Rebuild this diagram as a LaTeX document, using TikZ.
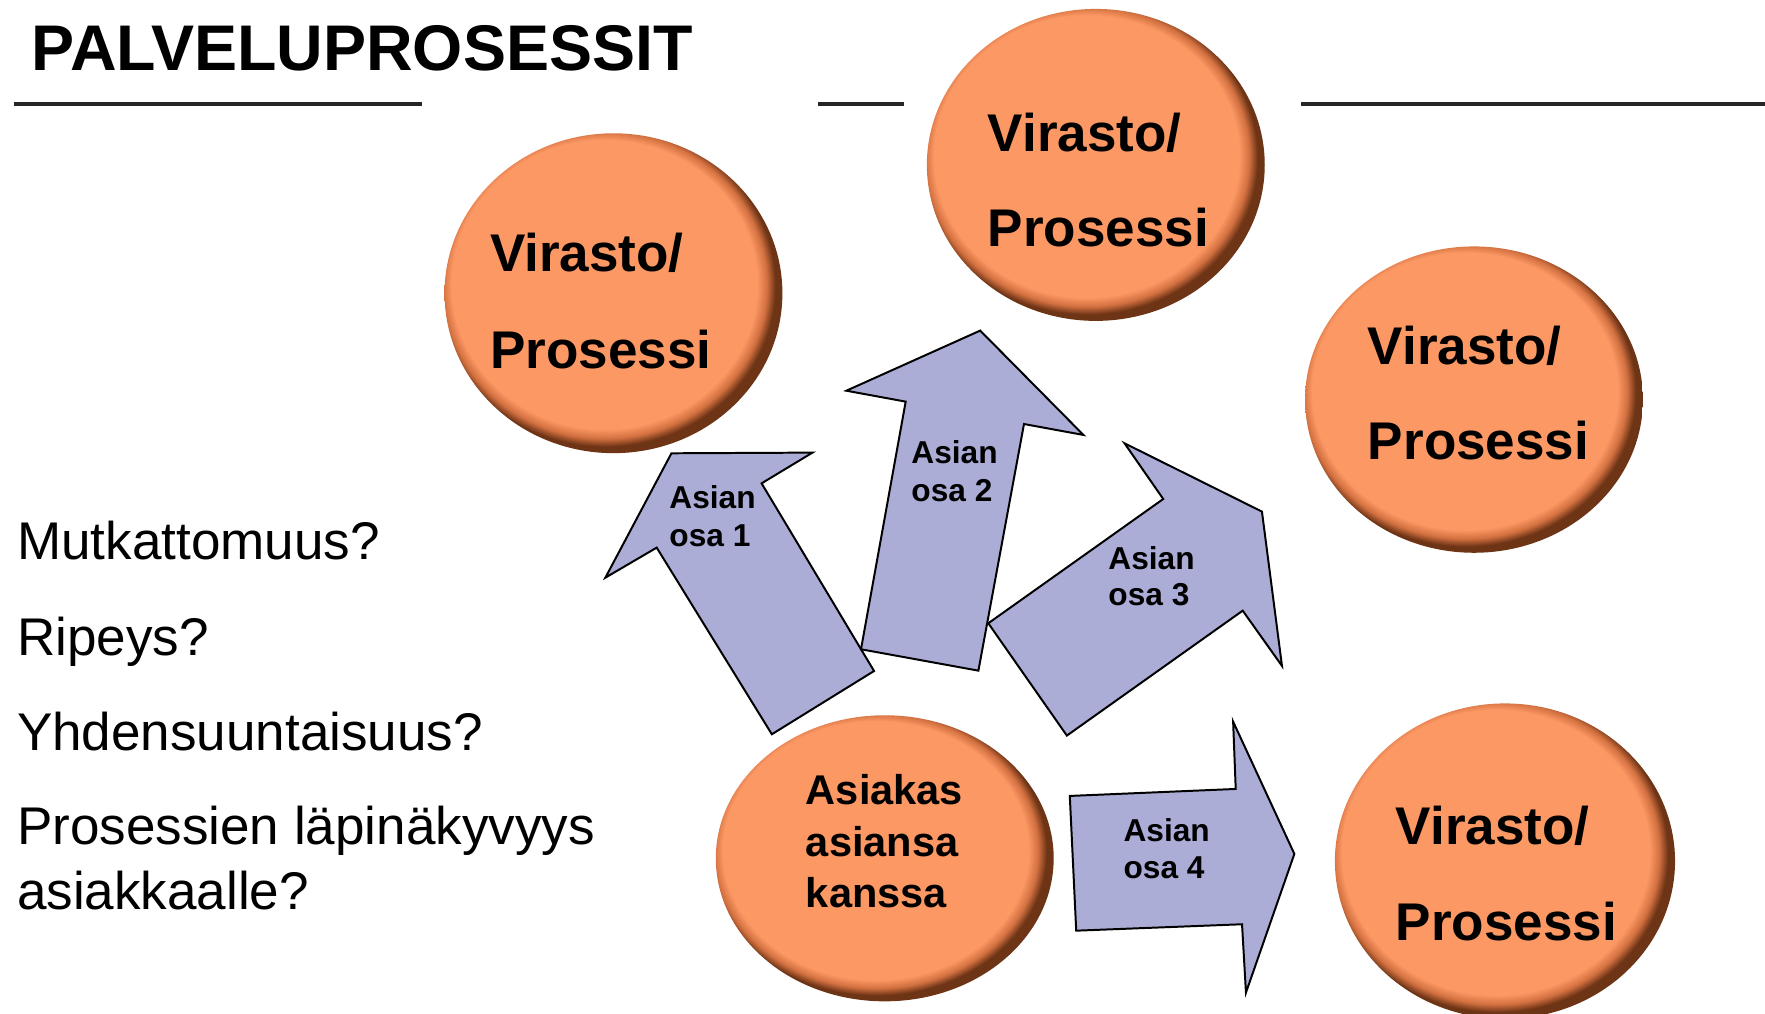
\documentclass[tikz,border=0pt]{standalone}
\usepackage{fontspec}
\setmainfont{Liberation Sans}
\usetikzlibrary{calc,shapes.geometric}
\definecolor{orbfill}{RGB}{252,152,100}
\definecolor{orbrim}{RGB}{210,112,64}
\definecolor{orbdeep}{RGB}{110,52,22}
\definecolor{partfill}{RGB}{171,173,214}
\pgfdeclareradialshading{orbshade}{\pgfpoint{-2.5bp}{2.5bp}}{color(0bp)=(orbfill); color(22.6bp)=(orbfill); color(24bp)=(orbrim); color(25.2bp)=(orbdeep); color(50bp)=(orbdeep)}

\begin{document}
\begin{tikzpicture}[x=0.01cm,y=-0.01cm,
    orb/.style={ellipse, minimum width=3cm, inner sep=0pt, shade, shading=orbshade},
    orbtext/.style={anchor=base west, inner sep=0pt, font=\bfseries\fontsize{13.4}{16}\selectfont},
    clienttext/.style={anchor=base west, inner sep=0pt, font=\bfseries\fontsize{10.5}{13}\selectfont},
    parttext/.style={anchor=base west, inner sep=0pt, font=\bfseries\fontsize{8}{10}\selectfont},
    question/.style={anchor=base west, inner sep=0pt, font=\fontsize{13.4}{16}\selectfont},
    part/.style={fill=partfill, draw=black, line width=0.5pt, line join=miter},
    rule/.style={line width=0.9pt, black!85}]
    \fill[white] (0,0) rectangle (1568,900);
    \useasboundingbox (0,0) rectangle (1568,900);

    \node[anchor=base west, inner sep=0pt, font=\bfseries\fontsize{16.3}{19}\selectfont] (title) at (27.5,62.8) {PALVELUPROSESSIT};
    \draw[rule] (12,92.4) -- (374.6,92.4);
    \draw[rule] (727,92.4) -- (803,92.4);
    \draw[rule] (1156,92.4) -- (1568,92.4);

    \node[question] (q1) at (14.5,496.9) {Mutkattomuus?};
    \node[question] (q2) at (14.5,581.9) {Ripeys?};
    \node[question] (q3) at (14.5,666.3) {Yhdensuuntaisuus?};
    \node[question] (q4) at (14.5,750.6) {Prosessien läpinäkyvyys};
    \node[question] (q5) at ($(q4.base west)+(0,57.8)$) {asiakkaalle?};

    \node[orb, minimum height=2.84cm] (vp1) at (545,260.5) {};
    \node[orb, minimum height=2.77cm] (vp2) at (973.5,146.5) {};
    \node[orb, minimum height=2.72cm] (vp3) at (1309.5,355) {};
    \node[orb, minimum width=3.02cm, minimum height=2.8cm] (vp4) at (1337,765) {};
    \node[orb, minimum height=2.54cm] (client) at (786,762.5) {};

    \node[orbtext] (vp1a) at (434.7,241.3) {Virasto/};
    \node[orbtext] (vp1b) at ($(vp1a.base west)+(0,86)$) {Prosessi};
    \node[orbtext] (vp2a) at (877,135) {Virasto/};
    \node[orbtext] (vp2b) at ($(vp2a.base west)+(0,84)$) {Prosessi};
    \node[orbtext] (vp3a) at (1214.6,323.4) {Virasto/};
    \node[orbtext] (vp3b) at ($(vp3a.base west)+(0,84.6)$) {Prosessi};
    \node[orbtext] (vp4a) at (1239.4,750.6) {Virasto/};
    \node[orbtext] (vp4b) at ($(vp4a.base west)+(0,85)$) {Prosessi};

    \node[clienttext] (cl1) at (715.3,715.1) {Asiakas};
    \node[clienttext] (cl2) at ($(cl1.base west)+(0,45.5)$) {asiansa};
    \node[clienttext] (cl3) at ($(cl2.base west)+(0,45.5)$) {kanssa};

    \draw[part] (596.5,402.7) -- (721.8,402.1) -- (676.6,429.4) -- (776.5,596.1) -- (685.7,652.3) -- (583.4,486.5) -- (537.8,513.2) -- cycle;
    \draw[part] (870.8,293.7) -- (962.5,386.4) -- (909.7,376.7) -- (869.2,595.8) -- (764.9,576.8) -- (804.6,356.8) -- (751.9,347.1) -- cycle;
    \draw[part] (999.0,393.8) -- (1121.1,454.5) -- (1138.9,591.6) -- (1104.0,542.5) -- (947.8,653.5) -- (878.0,553.7) -- (1033.4,443.3) -- cycle;
    \draw[part] (950.4,707.1) -- (1097.8,700.9) -- (1095.5,641.1) -- (1149.9,758.6) -- (1106.9,881.8) -- (1103.4,821.1) -- (956.1,826.8) -- cycle;

    \node[parttext] (p1a) at (594,451.6) {Asian};
    \node[parttext] (p1b) at ($(p1a.base west)+(0,34)$) {osa 1};
    \node[parttext] (p2a) at (809,411.6) {Asian};
    \node[parttext] (p2b) at ($(p2a.base west)+(0,34)$) {osa 2};
    \node[parttext] (p3a) at (984,505.8) {Asian};
    \node[parttext] (p3b) at ($(p3a.base west)+(0,32.5)$) {osa 3};
    \node[parttext] (p4a) at (997.5,747.7) {Asian};
    \node[parttext] (p4b) at ($(p4a.base west)+(0,32.5)$) {osa 4};
\end{tikzpicture}
\end{document}
